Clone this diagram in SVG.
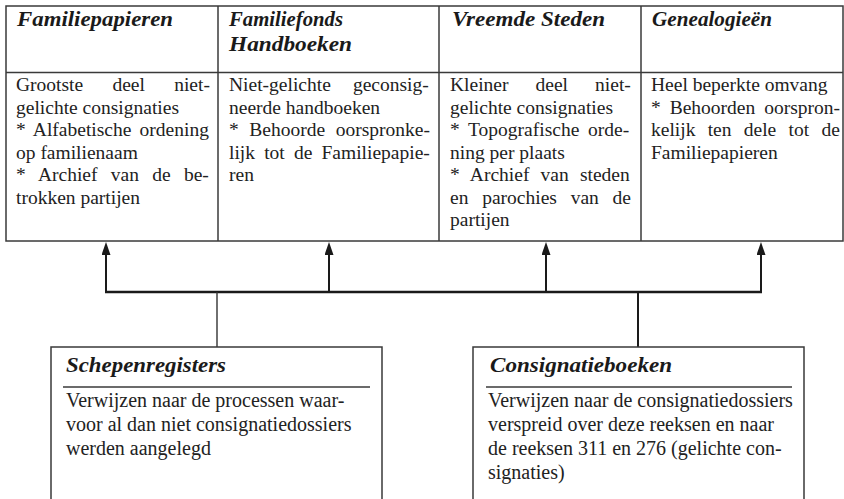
<svg xmlns="http://www.w3.org/2000/svg" width="844" height="499" viewBox="0 0 844 499">
<style>
.frame{fill:none;stroke:#3a3a3a;stroke-width:1.5}
.hd{font-family:"Liberation Serif",serif;font-weight:bold;font-style:italic;font-size:20px;fill:#1a1a1a}
.bd{font-family:"Liberation Serif",serif;font-size:19.5px;fill:#222}
.bx{font-family:"Liberation Serif",serif;font-size:20px;fill:#222}
.bus{fill:none;stroke:#1a1a1a;stroke-width:2.5}
.shaft{fill:none;stroke:#1a1a1a;stroke-width:2}
.stem{fill:none;stroke:#333;stroke-width:1.4}
</style>
<defs>
<marker id="ah" viewBox="0 0 13 9" markerWidth="13" markerHeight="9" refX="9" refY="4.5" orient="auto" markerUnits="userSpaceOnUse">
<path d="M0,0 L13,4.5 L0,9 z" fill="#1a1a1a"/>
</marker>
</defs>
<rect width="844" height="499" fill="#ffffff"/>
<g id="table-frame">
<rect class="frame" x="6" y="6" width="837" height="235"/>
<line class="frame" x1="6" y1="72.5" x2="843" y2="72.5"/>
<line class="frame" x1="218" y1="6" x2="218" y2="241"/>
<line class="frame" x1="439" y1="6" x2="439" y2="241"/>
<line class="frame" x1="641" y1="6" x2="641" y2="241"/>
</g>
<g id="familiepapieren">
<text class="hd" x="17" y="26" textLength="156" lengthAdjust="spacingAndGlyphs">Familiepapieren</text>
<text class="bd" x="16" y="91" word-spacing="24.4">Grootste deel niet-</text>
<text class="bd" x="16" y="113.5">gelichte consignaties</text>
<text class="bd" x="16" y="136" word-spacing="3.3">* Alfabetische ordening</text>
<text class="bd" x="16" y="158.5">op familienaam</text>
<text class="bd" x="16" y="181" word-spacing="8.4">* Archief van de be-</text>
<text class="bd" x="16" y="203.5">trokken partijen</text>
</g>
<g id="familiefonds-handboeken">
<text class="hd" x="229" y="26" textLength="114" lengthAdjust="spacingAndGlyphs">Familiefonds</text>
<text class="hd" x="229" y="51" textLength="123" lengthAdjust="spacingAndGlyphs">Handboeken</text>
<text class="bd" x="229" y="91" word-spacing="17.3">Niet-gelichte geconsig-</text>
<text class="bd" x="229" y="113.5">neerde handboeken</text>
<text class="bd" x="229" y="136" word-spacing="5.7">* Behoorde oorspronke-</text>
<text class="bd" x="229" y="158.5" word-spacing="4.3">lijk tot de Familiepapie-</text>
<text class="bd" x="229" y="181">ren</text>
</g>
<g id="vreemde-steden">
<text class="hd" x="452" y="26" textLength="153" lengthAdjust="spacingAndGlyphs">Vreemde Steden</text>
<text class="bd" x="450" y="91" word-spacing="22.2">Kleiner deel niet-</text>
<text class="bd" x="450" y="113.5">gelichte consignaties</text>
<text class="bd" x="450" y="136" word-spacing="3.8">* Topografische orde-</text>
<text class="bd" x="450" y="158.5">ning per plaats</text>
<text class="bd" x="450" y="181" word-spacing="6.3">* Archief van steden</text>
<text class="bd" x="450" y="203.5" word-spacing="8.9">en parochies van de</text>
<text class="bd" x="450" y="226">partijen</text>
</g>
<g id="genealogieen">
<text class="hd" x="652" y="26" textLength="120" lengthAdjust="spacingAndGlyphs">Genealogieën</text>
<text class="bd" x="651" y="91">Heel beperkte omvang</text>
<text class="bd" x="651" y="113.5" word-spacing="4.05">* Behoorden oorspron-</text>
<text class="bd" x="651" y="136" word-spacing="7.4">kelijk ten dele tot de</text>
<text class="bd" x="651" y="158.5">Familiepapieren</text>
</g>
<g id="connectors">
<line class="bus" x1="105" y1="292" x2="762" y2="292"/>
<line class="shaft" x1="106" y1="292" x2="106" y2="246" marker-end="url(#ah)"/>
<line class="shaft" x1="329" y1="292" x2="329" y2="246" marker-end="url(#ah)"/>
<line class="shaft" x1="546" y1="292" x2="546" y2="246" marker-end="url(#ah)"/>
<line class="shaft" x1="761" y1="292" x2="761" y2="246" marker-end="url(#ah)"/>
<line class="stem" x1="217" y1="292" x2="217" y2="347"/>
<line class="shaft" x1="638" y1="292" x2="638" y2="347"/>
</g>
<g id="schepenregisters">
<path class="frame" d="M51,499 V347 H382 V499"/>
<text class="hd" x="66" y="372" textLength="160" lengthAdjust="spacingAndGlyphs">Schepenregisters</text>
<line class="frame" x1="63" y1="387" x2="370" y2="387"/>
<text class="bx" x="66" y="407">Verwijzen naar de processen waar-</text>
<text class="bx" x="66" y="431">voor al dan niet consignatiedossiers</text>
<text class="bx" x="66" y="455">werden aangelegd</text>
</g>
<g id="consignatieboeken">
<path class="frame" d="M473,499 V347 H804 V499"/>
<text class="hd" x="490" y="372" textLength="182" lengthAdjust="spacingAndGlyphs">Consignatieboeken</text>
<line class="frame" x1="486" y1="387" x2="792" y2="387"/>
<text class="bx" x="488" y="407">Verwijzen naar de consignatiedossiers</text>
<text class="bx" x="488" y="431">verspreid over deze reeksen en naar</text>
<text class="bx" x="488" y="455">de reeksen 311 en 276 (gelichte con-</text>
<text class="bx" x="488" y="479">signaties)</text>
</g>
</svg>
